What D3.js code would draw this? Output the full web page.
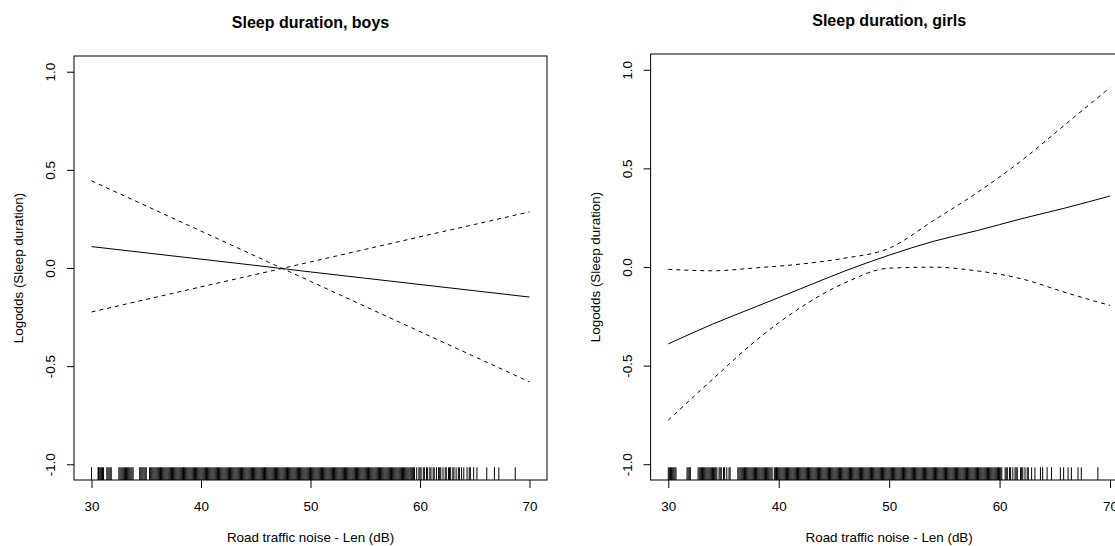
<!DOCTYPE html>
<html>
<head>
<meta charset="utf-8">
<script src="https://cdn.jsdelivr.net/npm/d3@7"></script>
<style>
  html, body { margin: 0; padding: 0; background: #fff; }
  svg { display: block; font-family: "Liberation Sans", Arial, sans-serif; }
</style>
</head>
<body>
<svg id="chart" width="1115" height="546"></svg>
<script>
// ---------- data ----------
const xTicks = [30, 40, 50, 60, 70];
const yTicks = [-1.0, -0.5, 0.0, 0.5, 1.0];
const yTickLabels = ["-1.0", "-0.5", "0.0", "0.5", "1.0"];

// Boys: linear fit with confidence bounds
const boysX     = [30, 35, 40, 45, 50, 55, 60, 65, 70];
const boysFit   = [0.109, 0.077, 0.045, 0.013, -0.020, -0.052, -0.084, -0.116, -0.148];
const boysUpper = [0.444, 0.316, 0.188, 0.060, -0.068, -0.196, -0.324, -0.452, -0.580];
const boysLower = [-0.224, -0.160, -0.096, -0.033, 0.031, 0.095, 0.159, 0.222, 0.286];

// Girls: smooth fit with confidence bounds
const girlsX     = [30, 34, 38, 42, 46, 50, 54, 58, 62, 66, 70];
const girlsFit   = [-0.39, -0.29, -0.20, -0.11, -0.02, 0.06, 0.13, 0.185, 0.245, 0.30, 0.36];
const girlsUpper = [-0.012, -0.019, -0.004, 0.015, 0.045, 0.095, 0.235, 0.378, 0.54, 0.725, 0.91];
const girlsLower = [-0.777, -0.57, -0.37, -0.205, -0.08, -0.006, -0.001, -0.02, -0.06, -0.13, -0.195];

// Rug (observed exposure values)
const boysRug = [30.0, 30.6, 30.65, 30.7, 30.8, 30.9, 31.0, 31.1, 31.4, 31.5, 31.6, 31.7, 31.8,
  32.5, 32.6, 32.7, 32.8, 32.9, 33.0, 33.1, 33.2, 33.3, 33.4, 33.5, 33.6, 33.7, 33.8,
  34.4, 34.5, 34.6, 34.7, 34.8, 34.9, 35.0,
  35.3, 35.4, 35.5, 35.6, 35.7, 35.8, 35.9, 36.0, 36.1, 36.2, 36.3, 36.4, 36.5, 36.6, 36.7, 36.8,
  36.9, 37.0, 37.1, 37.2, 37.3, 37.4, 37.5, 37.6, 37.7, 37.8, 37.9,
  38.0, 38.1, 38.2, 38.3, 38.4, 38.5, 38.6, 38.7, 38.8, 38.9, 39.0, 39.1, 39.2, 39.3, 39.4, 39.5,
  39.6, 39.7, 39.8, 39.9,
  40.0, 40.1, 40.2, 40.3, 40.4, 40.5, 40.6, 40.7, 40.8, 40.9, 41.0, 41.1, 41.2, 41.3, 41.4, 41.5,
  41.6, 41.7, 41.8, 41.9, 42.0, 42.1, 42.2, 42.3, 42.4, 42.5, 42.6, 42.7, 42.8, 42.9, 43.0, 43.1,
  43.2, 43.3, 43.4, 43.5, 43.6, 43.7, 43.8, 43.9, 44.0, 44.1, 44.2, 44.3, 44.4, 44.5, 44.6, 44.7,
  44.8, 44.9, 45.0, 45.1, 45.2, 45.3, 45.4, 45.5, 45.6, 45.7, 45.8, 45.9, 46.0, 46.1, 46.2, 46.3,
  46.4, 46.5, 46.6, 46.7, 46.8, 46.9, 47.0, 47.1, 47.2, 47.3, 47.4, 47.5, 47.6, 47.7, 47.8, 47.9,
  48.0, 48.1, 48.2, 48.3, 48.4, 48.5, 48.6, 48.7, 48.8, 48.9, 49.0, 49.1, 49.2, 49.3, 49.4, 49.5,
  49.6, 49.7, 49.8, 49.9,
  50.0, 50.1, 50.2, 50.3, 50.4, 50.5, 50.6, 50.7, 50.8, 50.9, 51.0, 51.1, 51.2, 51.3, 51.4, 51.5,
  51.6, 51.7, 51.8, 51.9, 52.0, 52.1, 52.2, 52.3, 52.4, 52.5, 52.6, 52.7, 52.8, 52.9, 53.0, 53.1,
  53.2, 53.3, 53.4, 53.5, 53.6, 53.7, 53.8, 53.9, 54.0, 54.1, 54.2, 54.3, 54.4, 54.5, 54.6, 54.7,
  54.8, 54.9, 55.0, 55.1, 55.2, 55.3, 55.4, 55.5, 55.6, 55.7, 55.8, 55.9, 56.0, 56.1, 56.2, 56.3,
  56.4, 56.5, 56.6, 56.7, 56.8, 56.9, 57.0, 57.1, 57.2, 57.3, 57.4, 57.5, 57.6, 57.7, 57.8, 57.9,
  58.0, 58.1, 58.2, 58.3, 58.4, 58.5, 58.6, 58.7, 58.8, 58.9, 59.0, 59.1, 59.2, 59.3, 59.4, 59.5,
  59.7, 59.9, 60.0, 60.1, 60.3, 60.4, 60.6, 60.7, 60.9, 61.0, 61.2, 61.3, 61.5, 61.7, 61.8, 61.9,
  62.1, 62.3, 62.4, 62.6, 62.7, 62.8, 63.0, 63.1, 63.3, 63.5, 63.6, 63.8,
  64.0, 64.3, 64.5, 64.6, 64.9, 65.2, 66.1, 66.8, 67.2, 68.7];

const girlsRug = [30.0, 30.1, 30.2, 30.3, 30.4, 30.5, 30.6, 30.7, 31.7, 31.8, 31.9, 32.0,
  32.7, 32.8, 32.9, 33.0, 33.1, 33.2, 33.3, 33.4, 33.5, 33.6, 33.7, 33.8, 33.9, 34.0, 34.1, 34.2,
  34.3, 34.4, 34.6, 34.7, 34.8, 35.0, 35.1, 35.3, 35.5, 35.6,
  36.3, 36.4, 36.5, 36.6, 36.7, 36.8, 36.9, 37.0, 37.1, 37.2, 37.3, 37.4, 37.5, 37.6, 37.7, 37.8,
  37.9, 38.0, 38.1, 38.2, 38.3, 38.4, 38.5, 38.6, 38.7, 38.8, 38.9, 39.0, 39.1, 39.2, 39.3, 39.4,
  39.6, 39.7, 39.8, 39.9, 40.0, 40.1, 40.2, 40.3, 40.4, 40.5, 40.6, 40.7, 40.8, 40.9, 41.0, 41.1,
  41.2, 41.3, 41.4, 41.5, 41.6, 41.7, 41.8, 41.9, 42.0, 42.1, 42.2, 42.3, 42.4, 42.5, 42.6, 42.7,
  42.8, 42.9, 43.0, 43.1, 43.2, 43.3, 43.4, 43.5, 43.6, 43.7, 43.8, 43.9, 44.0, 44.1, 44.2, 44.3,
  44.4, 44.5, 44.6, 44.7, 44.8, 44.9, 45.0, 45.1, 45.2, 45.3, 45.4, 45.5, 45.6, 45.7, 45.8, 45.9,
  46.0, 46.1, 46.2, 46.3, 46.4, 46.5, 46.6, 46.7, 46.8, 46.9, 47.0, 47.1, 47.2, 47.3, 47.4, 47.5,
  47.6, 47.7, 47.8, 47.9, 48.0, 48.1, 48.2, 48.3, 48.4, 48.5, 48.6, 48.7, 48.8, 48.9, 49.0, 49.1,
  49.2, 49.3, 49.4, 49.5, 49.6, 49.7, 49.8, 49.9, 50.0, 50.1, 50.2, 50.3, 50.4, 50.5, 50.6, 50.7,
  50.8, 50.9, 51.0, 51.1, 51.2, 51.3, 51.4, 51.5, 51.6, 51.7, 51.8, 51.9, 52.0, 52.1, 52.2, 52.3,
  52.4, 52.5, 52.6, 52.7, 52.8, 52.9, 53.0, 53.1, 53.2, 53.3, 53.4, 53.5, 53.6, 53.7, 53.8, 53.9,
  54.0, 54.1, 54.2, 54.3, 54.4, 54.5, 54.6, 54.7, 54.8, 54.9, 55.0, 55.1, 55.2, 55.3, 55.4, 55.5,
  55.6, 55.7, 55.8, 55.9, 56.0, 56.1, 56.2, 56.3, 56.4, 56.5, 56.6, 56.7, 56.8, 56.9, 57.0, 57.1,
  57.2, 57.3, 57.4, 57.5, 57.6, 57.7, 57.8, 57.9, 58.0, 58.1, 58.2, 58.3, 58.4, 58.5, 58.6, 58.7,
  58.8, 58.9, 59.0, 59.1, 59.2, 59.3, 59.4, 59.5, 59.6, 59.7, 59.8, 59.9, 60.0, 60.1, 60.2,
  60.5, 60.6, 60.7, 60.9, 61.0, 61.2, 61.4, 61.5, 61.6, 61.9, 62.0, 62.1, 62.3, 62.5, 62.6, 62.9,
  63.2, 63.7, 63.9, 64.3, 64.7, 65.5, 65.8, 66.2, 66.5, 67.1, 67.4, 68.9];

const titles = ["Sleep duration, boys", "Sleep duration, girls"];
const xLabel = "Road traffic noise - Len (dB)";
const yLabel = "Logodds (Sleep duration)";

// ---------- drawing ----------
const svg = d3.select("#chart");
const FONT = "Liberation Sans, Arial, sans-serif";

const panels = [
  { title: titles[0], x: boysX, fit: boysFit, upper: boysUpper, lower: boysLower, rug: boysRug,
    left: 74, right: 547, top: 56, bottom: 480, titleY: 28, smooth: false },
  { title: titles[1], x: girlsX, fit: girlsFit, upper: girlsUpper, lower: girlsLower, rug: girlsRug,
    left: 650.6, right: 1127.7, top: 54, bottom: 480, titleY: 26, smooth: true }
];

panels.forEach(p => {
  const xs = d3.scaleLinear().domain([28.4, 71.6]).range([p.left, p.right]);
  const ys = d3.scaleLinear().domain([-1.08, 1.08]).range([p.bottom, p.top]);
  const g = svg.append("g");

  // title
  g.append("text")
    .attr("x", (p.left + p.right) / 2).attr("y", p.titleY)
    .attr("text-anchor", "middle")
    .attr("font-size", 16).attr("font-weight", "bold").attr("fill", "#000")
    .text(p.title);

  // x axis
  const xAx = g.append("g").attr("transform", `translate(0,${p.bottom})`)
    .call(d3.axisBottom(xs).tickValues(xTicks).tickSize(8).tickFormat(d3.format("d")));
  xAx.select(".domain").remove();
  xAx.selectAll("line").attr("stroke", "#000");
  xAx.selectAll("text").attr("font-size", 13.4).attr("fill", "#000")
    .attr("font-family", FONT)
    .attr("dy", null).attr("y", 30.5);

  // y axis
  const yAx = g.append("g").attr("transform", `translate(${p.left},0)`)
    .call(d3.axisLeft(ys).tickValues(yTicks).tickSize(7).tickFormat((d, i) => yTickLabels[i]));
  yAx.select(".domain").remove();
  yAx.selectAll("line").attr("stroke", "#000");
  yAx.selectAll("text")
    .attr("font-size", 13.4).attr("fill", "#000")
    .attr("font-family", FONT)
    .attr("x", null).attr("dy", null)
    .attr("text-anchor", "middle")
    .attr("transform", "translate(-19,0) rotate(-90)");

  // axis titles
  g.append("text")
    .attr("x", (p.left + p.right) / 2).attr("y", 542)
    .attr("text-anchor", "middle").attr("font-size", 13.4).attr("fill", "#000")
    .text(xLabel);
  g.append("text")
    .attr("transform", `translate(${p.left - 51},${(p.top + p.bottom) / 2}) rotate(-90)`)
    .attr("text-anchor", "middle").attr("font-size", 13.4).attr("fill", "#000")
    .text(yLabel);

  // box
  g.append("rect")
    .attr("x", p.left).attr("y", p.top)
    .attr("width", p.right - p.left).attr("height", p.bottom - p.top)
    .attr("fill", "none").attr("stroke", "#000").attr("stroke-width", 1);

  // rug
  g.append("g").selectAll("line").data(p.rug).join("line")
    .attr("x1", d => xs(d)).attr("x2", d => xs(d))
    .attr("y1", p.bottom).attr("y2", p.bottom - 12.7)
    .attr("stroke", "#000").attr("stroke-width", 1);

  // curves
  const line = d3.line()
    .x(d => xs(d[0])).y(d => ys(d[1]))
    .curve(p.smooth ? d3.curveMonotoneX : d3.curveLinear);
  const mk = arr => p.x.map((v, i) => [v, arr[i]]);

  g.append("path").datum(mk(p.fit)).attr("d", line)
    .attr("fill", "none").attr("stroke", "#000").attr("stroke-width", 1);
  [p.upper, p.lower].forEach(arr => {
    g.append("path").datum(mk(arr)).attr("d", line)
      .attr("fill", "none").attr("stroke", "#000").attr("stroke-width", 1)
      .attr("stroke-dasharray", "4,4");
  });
});
</script>
</body>
</html>
